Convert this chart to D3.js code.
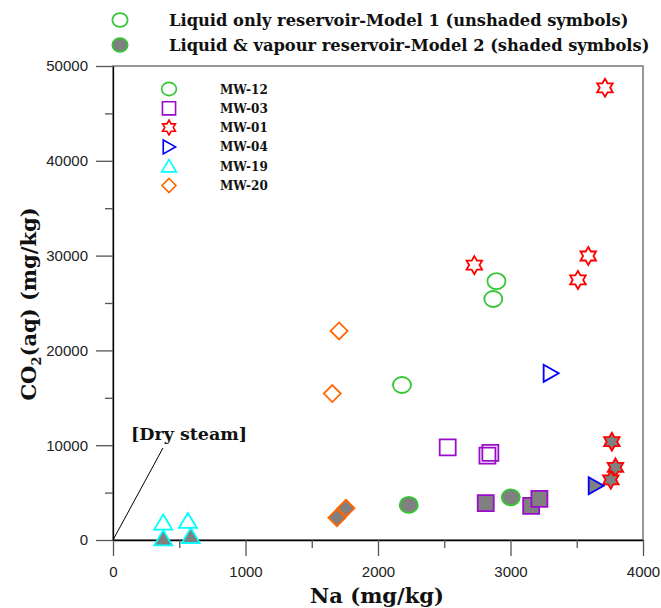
<!DOCTYPE html>
<html><head><meta charset="utf-8">
<script src="https://cdn.jsdelivr.net/npm/d3@7"></script>
<style>body{margin:0;background:#fff}svg{display:block}</style>
</head><body><svg id="c" width="661" height="608"></svg>
<script>
const wells = ["MW-12","MW-03","MW-01","MW-04","MW-19","MW-20"];
const mw12Open = [[2181,16350],[2894,27300],[2870,25420]];
const mw12Shaded = [[2232,3700],[3002,4500]];
const mw03Open = [[2526,9780],[2826,8890],[2848,9180]];
const mw03Shaded = [[2813,3880],[3156,3600],[3218,4340]];
const mw01Open = [[3713,47700],[2727,29000],[3587,29960],[3509,27430]];
const mw01Shaded = [[3765,10370],[3792,7660],[3757,6350]];
const mw04Open = [[3303,17580]];
const mw04Shaded = [[3643,5720]];
const mw19Open = [[379,1840],[565,2010]];
const mw19Shaded = [[379,180],[587,420]];
const mw20Open = [[1655,15450],[1706,22050]];
const mw20Shaded = [[1690,2360],[1758,3350]];
const dryLine = [[0,0],[377,9700]];
const xTicks = [0,1000,2000,3000,4000];
const yTicks = [0,10000,20000,30000,40000,50000];

const colors = {"MW-12":"#33c633","MW-03":"#9a0ccc","MW-01":"#ff0000","MW-04":"#0000ff","MW-19":"#00ffff","MW-20":"#ff6600"};
const shapes = {"MW-12":"circle","MW-03":"square","MW-01":"star","MW-04":"tri-right","MW-19":"tri-up","MW-20":"diamond"};
const series = [
  {w:"MW-12",open:mw12Open,shaded:mw12Shaded},
  {w:"MW-03",open:mw03Open,shaded:mw03Shaded},
  {w:"MW-01",open:mw01Open,shaded:mw01Shaded},
  {w:"MW-04",open:mw04Open,shaded:mw04Shaded},
  {w:"MW-19",open:mw19Open,shaded:mw19Shaded},
  {w:"MW-20",open:mw20Open,shaded:mw20Shaded}
];

function shapePath(s){
  if(s==="circle"){return "M-9,0A9,8 0 1,0 9,0A9,8 0 1,0 -9,0Z";}
  if(s==="square"){return "M-8,-8H8V8H-8Z";}
  if(s==="diamond"){return "M0,-8.5L8.5,0L0,8.5L-8.5,0Z";}
  if(s==="tri-up"){return "M0,-8L9,7H-9Z";}
  if(s==="tri-right"){return "M-7,-8.5L8,0L-7,8.5Z";}
  if(s==="star"){
    const pts=[];
    for(let i=0;i<12;i++){
      const r = i%2===0?9:5.2;
      const a = -Math.PI/2 + i*Math.PI/6;
      pts.push([r*Math.cos(a), r*Math.sin(a)]);
    }
    return "M"+pts.map(p=>p[0].toFixed(2)+","+p[1].toFixed(2)).join("L")+"Z";
  }
}

const svg = d3.select("#c");
const L=113,R=643,T=66,B=540;
const x = d3.scaleLinear().domain([0,4000]).range([L,R]);
const y = d3.scaleLinear().domain([0,50000]).range([B,T]);

// frame
svg.append("rect").attr("x",L).attr("y",T).attr("width",R-L).attr("height",B-T)
  .attr("fill","none").attr("stroke","#777").attr("stroke-width",1.5);

// axes
const xAxis = d3.axisBottom(x).tickValues(xTicks).tickSize(16).tickSizeOuter(0).tickPadding(10).tickFormat(d3.format("d"));
const gx = svg.append("g").attr("transform",`translate(0,${B})`).call(xAxis);
gx.selectAll(".tick line").attr("stroke","#555").attr("stroke-width",1.3);
gx.select(".domain").attr("stroke","#000").attr("stroke-width",1.3);
gx.selectAll("text").attr("font-family","Liberation Sans, Arial, sans-serif").attr("font-size",15).attr("fill","#222");
const xMinor = d3.axisBottom(x).tickValues([500,1500,2500,3500]).tickSize(8).tickFormat("").tickSizeOuter(0);
const gxm = svg.append("g").attr("transform",`translate(0,${B})`).call(xMinor);
gxm.select(".domain").remove();
gxm.selectAll(".tick line").attr("stroke","#555").attr("stroke-width",1.3);

const yAxis = d3.axisLeft(y).tickValues(yTicks).tickSize(17).tickSizeOuter(0).tickPadding(8).tickFormat(d3.format("d"));
const gy = svg.append("g").attr("transform",`translate(${L},0)`).call(yAxis);
gy.selectAll(".tick line").attr("stroke","#555").attr("stroke-width",1.3);
gy.select(".domain").attr("stroke","#000").attr("stroke-width",1.3);
gy.selectAll("text").attr("font-family","Liberation Sans, Arial, sans-serif").attr("font-size",15).attr("fill","#222");
const yMinor = d3.axisLeft(y).tickValues([5000,15000,25000,35000,45000]).tickSize(8).tickFormat("").tickSizeOuter(0);
const gym = svg.append("g").attr("transform",`translate(${L},0)`).call(yMinor);
gym.select(".domain").remove();
gym.selectAll(".tick line").attr("stroke","#555").attr("stroke-width",1.3);

// dry steam line
svg.append("path").attr("d",d3.line().x(d=>x(d[0])).y(d=>y(d[1]))(dryLine))
  .attr("stroke","#000").attr("stroke-width",1).attr("fill","none");
svg.append("text").attr("x",131).attr("y",440).text("[Dry steam]")
  .attr("font-family","DejaVu Serif, serif").attr("font-weight","bold").attr("font-size",17.5).attr("fill","#111");

// points
const pg = svg.append("g");
series.forEach(s=>{
  const c=colors[s.w], p=shapePath(shapes[s.w]);
  pg.selectAll(null).data(s.open).enter().append("path")
    .attr("d",p).attr("transform",d=>`translate(${x(d[0])},${y(d[1])})`)
    .attr("fill","none").attr("stroke",c).attr("stroke-width",1.8);
});
series.forEach(s=>{
  const c=colors[s.w], p=shapePath(shapes[s.w]);
  pg.selectAll(null).data(s.shaded).enter().append("path")
    .attr("d",p).attr("transform",d=>`translate(${x(d[0])},${y(d[1])})`)
    .attr("fill","#808080").attr("stroke",c).attr("stroke-width",1.8);
});

// inner legend
const lg = svg.append("g");
wells.forEach((w,i)=>{
  const yy = 89 + i*19.3;
  lg.append("path").attr("d",shapePath(shapes[w])).attr("transform",`translate(169,${yy}) scale(0.82)`)
    .attr("fill","none").attr("stroke",colors[w]).attr("stroke-width",2);
  lg.append("text").attr("x",220).attr("y",yy+4.5).text(w)
    .attr("font-family","DejaVu Serif, serif").attr("font-weight","bold").attr("font-size",12).attr("fill","#111");
});

// top legend
svg.append("path").attr("d",shapePath("circle")).attr("transform","translate(120,20) scale(0.85)")
  .attr("fill","none").attr("stroke","#33c633").attr("stroke-width",2);
svg.append("path").attr("d",shapePath("circle")).attr("transform","translate(120,45) scale(0.85)")
  .attr("fill","#808080").attr("stroke","#33c633").attr("stroke-width",2);
svg.append("text").attr("x",169).attr("y",26).text("Liquid only reservoir-Model 1 (unshaded symbols)")
  .attr("font-family","DejaVu Serif, serif").attr("font-weight","bold").attr("font-size",16.3).attr("fill","#111");
svg.append("text").attr("x",169).attr("y",51).text("Liquid & vapour reservoir-Model 2 (shaded symbols)")
  .attr("font-family","DejaVu Serif, serif").attr("font-weight","bold").attr("font-size",16.3).attr("fill","#111");

// axis titles
svg.append("text").attr("x",377).attr("y",603).attr("text-anchor","middle").text("Na (mg/kg)")
  .attr("font-family","DejaVu Serif, serif").attr("font-weight","bold").attr("font-size",21).attr("fill","#111");
const yt = svg.append("text").attr("transform","translate(36,304) rotate(-90)").attr("text-anchor","middle")
  .attr("font-family","DejaVu Serif, serif").attr("font-weight","bold").attr("font-size",21).attr("fill","#111");
yt.append("tspan").text("CO");
yt.append("tspan").text("2").attr("font-size",13).attr("dy",5);
yt.append("tspan").text("(aq) (mg/kg)").attr("dy",-5);
</script></body></html>
